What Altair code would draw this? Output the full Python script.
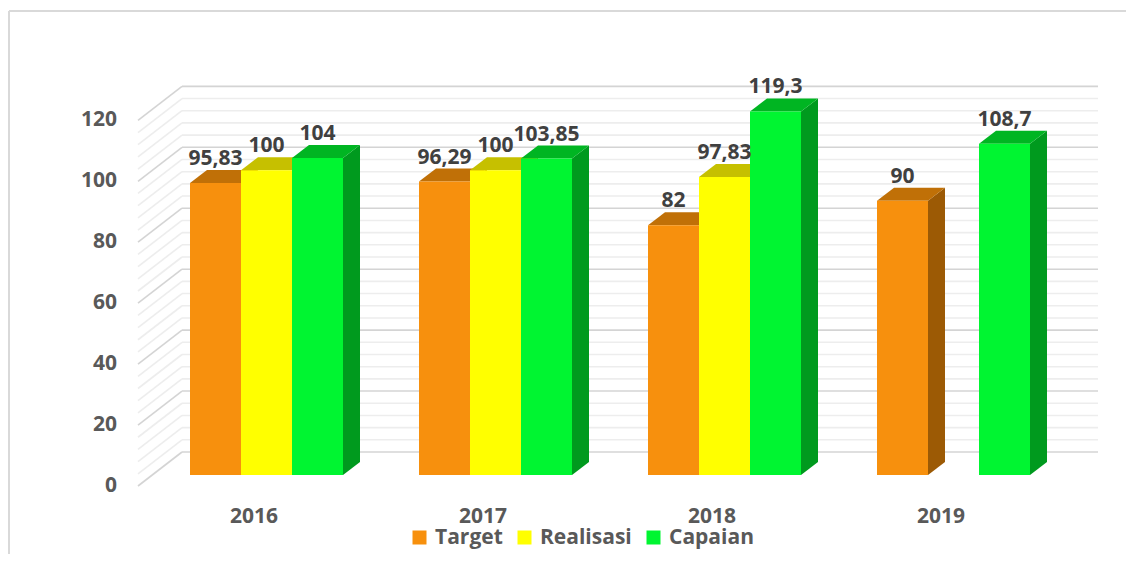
import altair as alt
import pandas as pd

# ---------------- data ----------------
years = ["2016", "2017", "2018", "2019"]
series = ["Target", "Realisasi", "Capaian"]
target = [95.83, 96.29, 82, 90]
realisasi = [100, 100, 97.83, None]
capaian = [104, 103.85, 119.3, 108.7]
y_ticks = [0, 20, 40, 60, 80, 100, 120]

# ---------------- style / layout ----------------
front_colors = ["#F7900D", "#FFFF00", "#00F531"]
top_colors = ["#C07007", "#C6C000", "#00B522"]
side_colors = ["#9C5A05", "#A09A00", "#009A1E"]
FONT = "Open Sans"
FS = 21

W, H = 1118, 546
PXU = 3.047            # pixels per value unit
BASE = 467             # plot y of value 0 at bar front
X0, GROUP, BARW = 182, 229, 51
DX = 17                # 3D depth, x (px)
DY = 13 / PXU          # 3D depth, y (units)
WALL_DY = 23 / PXU
SIDE_DY = -11 / PXU
WALL_X0, WALL_X1, SIDE_X0 = 174, 1090, 130

xs = alt.Scale(domain=[0, W], nice=False, zero=False)
ys = alt.Scale(domain=[(BASE - H) / PXU, BASE / PXU], nice=False, zero=False)

values = [target, realisasi, capaian]
bars, tops, sides = [], [], []
for g, yr in enumerate(years):
    for s, name in enumerate(series):
        v = values[s][g]
        if v is None:
            continue
        bid = f"{yr}-{name}"
        x0 = X0 + g * GROUP + s * BARW
        x1 = x0 + BARW
        lab = (f"{v:g}").replace(".", ",")
        bars.append(dict(id=bid, series=name, x0=x0, x1=x1, xc=(x0 + x1) / 2,
                         v=v, label=lab))
        tops.append(dict(id=bid, c=top_colors[s], yv=v, xa=x0, xb=x1))
        tops.append(dict(id=bid, c=top_colors[s], yv=v + DY, xa=x0 + DX, xb=x1 + DX))
        sides.append(dict(id=bid, c=side_colors[s], xv=x1, ya=0, yb=v))
        sides.append(dict(id=bid, c=side_colors[s], xv=x1 + DX, ya=DY, yb=v + DY))

bars_df = pd.DataFrame(bars)
tops_df = pd.DataFrame(tops)
sides_df = pd.DataFrame(sides)

grid = pd.DataFrame([dict(v=v, major=(v % 20 == 0),
                          wy=v + WALL_DY, sy0=v + SIDE_DY,
                          wx0=WALL_X0, wx1=WALL_X1, sx0=SIDE_X0)
                     for v in range(0, 121, 4)])
grid_minor = grid[~grid.major]
grid_major = grid[grid.major]

ytick_df = pd.DataFrame(dict(v=y_ticks, lab=[str(t) for t in y_ticks],
                             y=[t + SIDE_DY for t in y_ticks]))
year_df = pd.DataFrame(dict(year=years,
                            x=[246 + g * GROUP for g in range(len(years))],
                            y=[0] * len(years)))

frame_top = alt.Chart(pd.DataFrame({"a": [0]})).mark_rule(
    color="#D9D9D9", strokeWidth=2).encode(
    x=alt.value(1), x2=alt.value(W), y=alt.value(3))
frame_left = alt.Chart(pd.DataFrame({"a": [0]})).mark_rule(
    color="#D9D9D9", strokeWidth=2).encode(
    x=alt.value(1), y=alt.value(3), y2=alt.value(H))


def wall(df, color):
    back = alt.Chart(df).mark_rule(color=color, strokeWidth=1.6).encode(
        x=alt.X("wx0:Q", scale=xs, axis=None), x2="wx1:Q",
        y=alt.Y("wy:Q", scale=ys, axis=None), y2="wy:Q")
    side = alt.Chart(df).mark_rule(color=color, strokeWidth=1.6).encode(
        x=alt.X("sx0:Q", scale=xs, axis=None), x2="wx0:Q",
        y=alt.Y("sy0:Q", scale=ys, axis=None), y2="wy:Q")
    return back + side


ylabels = alt.Chart(ytick_df).mark_text(
    align="right", baseline="middle", font=FONT, fontSize=FS,
    fontWeight="bold", color="#595959").encode(
    x=alt.value(109), y=alt.Y("y:Q", scale=ys, axis=None), text="lab:N")

side_faces = alt.Chart(sides_df).mark_area(orient="vertical", strokeWidth=0).encode(
    x=alt.X("xv:Q", scale=xs, axis=None),
    y=alt.Y("ya:Q", scale=ys, axis=None), y2="yb:Q",
    fill=alt.Fill("c:N", scale=None), detail="id:N")

top_faces = alt.Chart(tops_df).mark_area(orient="horizontal", strokeWidth=0).encode(
    y=alt.Y("yv:Q", scale=ys, axis=None),
    x=alt.X("xa:Q", scale=xs, axis=None), x2="xb:Q",
    fill=alt.Fill("c:N", scale=None), detail="id:N")

fronts = alt.Chart(bars_df).mark_rect().encode(
    x=alt.X("x0:Q", scale=xs, axis=None), x2="x1:Q",
    y=alt.Y("v:Q", scale=ys, axis=None), y2=alt.datum(0),
    color=alt.Color("series:N", scale=alt.Scale(domain=series, range=front_colors),
                    legend=alt.Legend(orient="none", legendX=401, legendY=519,
                                      direction="horizontal", title=None,
                                      symbolType="square", symbolSize=196,
                                      symbolStrokeWidth=0, symbolOpacity=1,
                                      labelFont=FONT, labelFontSize=FS,
                                      labelFontWeight="bold", labelColor="#595959",
                                      columnPadding=11, labelOffset=5, padding=0,
                                      gridAlign="none")))

data_labels = alt.Chart(bars_df).mark_text(
    align="center", baseline="alphabetic", dy=-18, font=FONT, fontSize=FS,
    fontWeight="bold", color="#404040").encode(
    x=alt.X("xc:Q", scale=xs, axis=None), y=alt.Y("v:Q", scale=ys, axis=None),
    text="label:N")

year_labels = alt.Chart(year_df).mark_text(
    align="center", baseline="alphabetic", dy=48, font=FONT, fontSize=FS,
    fontWeight="bold", color="#595959").encode(
    x=alt.X("x:Q", scale=xs, axis=None), y=alt.Y("y:Q", scale=ys, axis=None),
    text="year:N")

chart = alt.layer(
    frame_top, frame_left,
    wall(grid_minor, "#EDEDED"), wall(grid_major, "#D4D4D4"),
    ylabels, side_faces, top_faces, fronts, data_labels, year_labels
).properties(
    width=W, height=H, padding=0, background="white",
    autosize=alt.AutoSizeParams(type="none")
).configure_view(stroke=None)

chart.save("out.html", embed_options={"renderer": "svg", "actions": False})
